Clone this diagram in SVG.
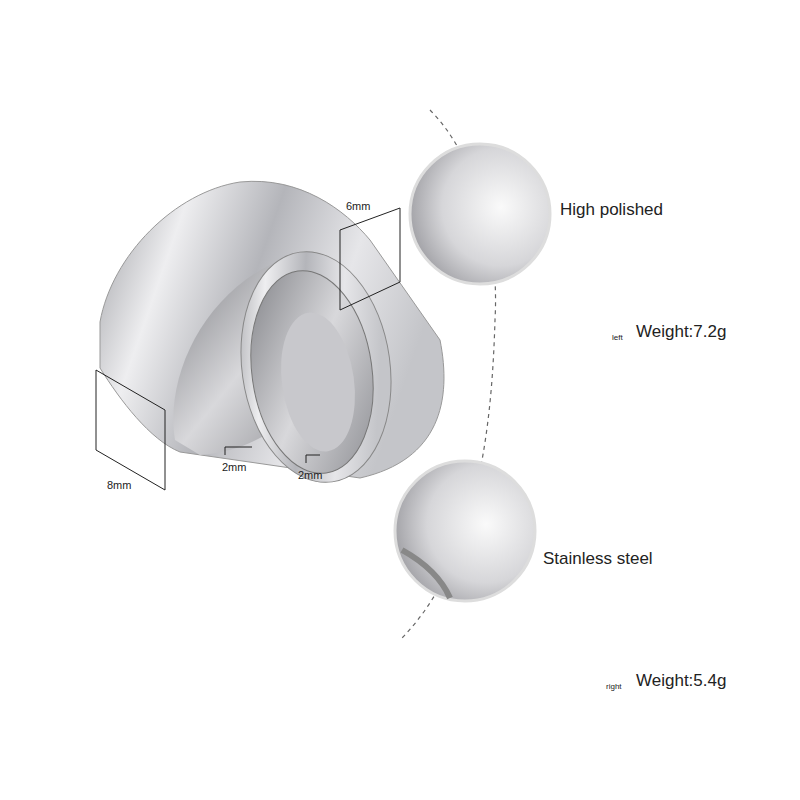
<svg xmlns="http://www.w3.org/2000/svg" width="800" height="800" viewBox="0 0 800 800">
<defs>
<linearGradient id="steel" x1="0" y1="0" x2="1" y2="0.3">
<stop offset="0" stop-color="#9c9da2"/><stop offset="0.25" stop-color="#eeeef0"/><stop offset="0.5" stop-color="#b4b5ba"/><stop offset="0.75" stop-color="#e6e6e9"/><stop offset="1" stop-color="#c4c5c9"/>
</linearGradient>
<linearGradient id="inner" x1="0" y1="0" x2="1" y2="1">
<stop offset="0" stop-color="#7d7e83"/><stop offset="0.5" stop-color="#d8d8db"/><stop offset="1" stop-color="#8a8b90"/>
</linearGradient>
<radialGradient id="disc" cx="0.65" cy="0.45" r="0.7">
<stop offset="0" stop-color="#fafafa"/><stop offset="0.6" stop-color="#d6d6d9"/><stop offset="1" stop-color="#9a9a9f"/>
</radialGradient>
<style>
.t{font-family:"Liberation Sans",Arial,sans-serif;fill:#222}
.d{stroke:#222;stroke-width:1;fill:none}
</style>
</defs>
<rect width="800" height="800" fill="#fff"/>
<path d="M430,110 C470,150 500,230 495,320 C492,420 480,560 400,640" fill="none" stroke="#666" stroke-width="1.2" stroke-dasharray="4,4"/>
<g id="big-ring">
<path d="M100,368 L100,322 C112,255 175,192 240,182 C300,176 345,210 370,240 L440,340 C452,400 440,460 360,478 L180,452 C150,440 120,400 100,368 Z" fill="url(#steel)" stroke="#999"/>
<path d="M175,440 C165,380 200,300 270,265 C310,250 330,280 330,330 C325,400 270,450 200,455 Z" fill="url(#inner)"/>
</g>
<g id="small-ring">
<ellipse cx="316" cy="367" rx="74" ry="116" transform="rotate(-8 316 367)" fill="url(#steel)" stroke="#888"/>
<ellipse cx="312" cy="372" rx="60" ry="102" transform="rotate(-8 312 372)" fill="url(#inner)" stroke="#777"/>
<ellipse cx="318" cy="382" rx="36" ry="70" transform="rotate(-8 318 382)" fill="#c8c8cc"/>
</g>
<g id="dims">
<path class="d" d="M96,370 L165,410 L165,490 L96,450 Z"/>
<path class="d" d="M340,230 L400,208 L400,282 L340,310 Z"/>
<path class="d" d="M225,447 L252,447 M225,447 L225,455 M306,455 L320,455 M306,455 L306,463"/>
<text class="t" x="107" y="489" font-size="11">8mm</text>
<text class="t" x="346" y="210" font-size="11">6mm</text>
<text class="t" x="222" y="471" font-size="11">2mm</text>
<text class="t" x="298" y="479" font-size="11">2mm</text>
</g>
<g id="disc-top">
<circle cx="480" cy="214" r="70" fill="url(#disc)" stroke="#ddd" stroke-width="3"/>
</g>
<g id="disc-bottom">
<circle cx="465" cy="531" r="70" fill="url(#disc)" stroke="#ddd" stroke-width="3"/>
<path d="M402,550 C420,560 440,575 450,598" fill="none" stroke="#888" stroke-width="6"/>
</g>
<text class="t" x="560" y="215" font-size="17">High polished</text>
<text class="t" x="612" y="340" font-size="8">left</text>
<text class="t" x="636" y="337" font-size="17">Weight:7.2g</text>
<text class="t" x="543" y="564" font-size="17">Stainless steel</text>
<text class="t" x="606" y="689" font-size="8">right</text>
<text class="t" x="636" y="686" font-size="17">Weight:5.4g</text>
</svg>
